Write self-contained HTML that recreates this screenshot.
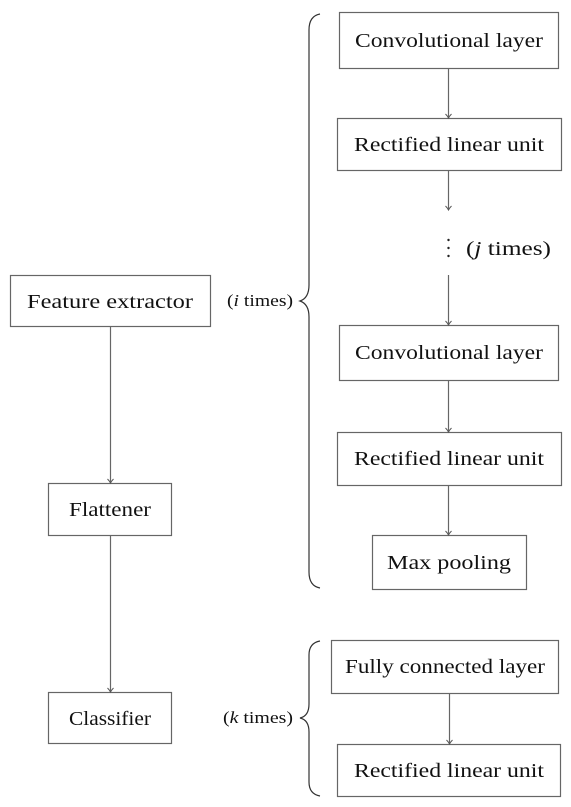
<!DOCTYPE html>
<html><head><style>body{margin:0;background:#fff}svg{display:block}text{font-family:"Liberation Serif",serif;font-size:20px;fill:#111}</style></head>
<body>
<svg width="571" height="807" viewBox="0 0 571 807">
<defs><marker id="a" markerWidth="8" markerHeight="8" refX="6" refY="4" orient="auto" markerUnits="userSpaceOnUse"><path d="M2,1 Q4,3 6,4 Q4,5 2,7" fill="none" stroke="#555" stroke-width="1"/></marker></defs>
<g fill="none" stroke="#666" stroke-width="1.2">
<rect x="339.5" y="12.5" width="219" height="56"/>
<rect x="337.5" y="118.5" width="224" height="52"/>
<rect x="339.5" y="325.5" width="219" height="55"/>
<rect x="337.5" y="432.5" width="224" height="53"/>
<rect x="372.5" y="535.5" width="154" height="54"/>
<rect x="10.5" y="275.5" width="200" height="51"/>
<rect x="48.5" y="483.5" width="123" height="52"/>
<rect x="48.5" y="692.5" width="123" height="51"/>
<rect x="331.5" y="640.5" width="227" height="53"/>
<rect x="337.5" y="744.5" width="223" height="52"/>
<g marker-end="url(#a)">
<line x1="448.5" y1="69" x2="448.5" y2="118"/>
<line x1="448.5" y1="171" x2="448.5" y2="210"/>
<line x1="448.5" y1="275" x2="448.5" y2="325"/>
<line x1="448.5" y1="381" x2="448.5" y2="432"/>
<line x1="448.5" y1="486" x2="448.5" y2="535"/>
<line x1="110.5" y1="327" x2="110.5" y2="483"/>
<line x1="110.5" y1="536" x2="110.5" y2="692"/>
<line x1="449.5" y1="694" x2="449.5" y2="744"/>
</g>
<path d="M320,14 Q309,16 309,30 L309,285 Q309,298 300,301 Q309,304 309,317 L309,572 Q309,586 320,588" stroke="#333"/>
<path d="M320,641 Q309,643 309,655 L309,704 Q309,716 300,718 Q309,720 309,732 L309,782 Q309,794 320,796" stroke="#333"/>
</g>
<g fill="#222"><circle cx="448.5" cy="240" r="1.2"/><circle cx="448.5" cy="248" r="1.2"/><circle cx="448.5" cy="256" r="1.2"/></g>
<g text-anchor="middle">
<text x="449" y="47" textLength="188" lengthAdjust="spacingAndGlyphs">Convolutional layer</text>
<text x="449" y="151" textLength="190" lengthAdjust="spacingAndGlyphs">Rectified linear unit</text>
<text x="449" y="359" textLength="188" lengthAdjust="spacingAndGlyphs">Convolutional layer</text>
<text x="449" y="465" textLength="190" lengthAdjust="spacingAndGlyphs">Rectified linear unit</text>
<text x="449" y="569" textLength="124" lengthAdjust="spacingAndGlyphs">Max pooling</text>
<text x="110" y="308" textLength="166" lengthAdjust="spacingAndGlyphs">Feature extractor</text>
<text x="110" y="516" textLength="82" lengthAdjust="spacingAndGlyphs">Flattener</text>
<text x="110" y="725" textLength="82" lengthAdjust="spacingAndGlyphs">Classifier</text>
<text x="445" y="673" textLength="200" lengthAdjust="spacingAndGlyphs">Fully connected layer</text>
<text x="449" y="777" textLength="190" lengthAdjust="spacingAndGlyphs">Rectified linear unit</text>
</g>
<text x="466" y="255" textLength="85" lengthAdjust="spacingAndGlyphs">(<tspan font-style="italic">j</tspan> times)</text>
<text x="227" y="306" style="font-size:17px" textLength="66" lengthAdjust="spacingAndGlyphs">(<tspan font-style="italic">i</tspan> times)</text>
<text x="223" y="723" style="font-size:17px" textLength="70" lengthAdjust="spacingAndGlyphs">(<tspan font-style="italic">k</tspan> times)</text>
</svg>
</body></html>
